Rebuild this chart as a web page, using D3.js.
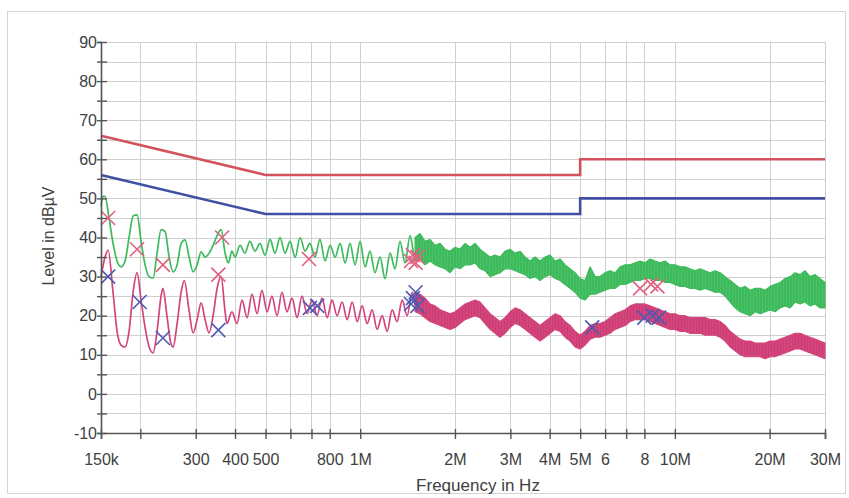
<!DOCTYPE html>
<html><head><meta charset="utf-8">
<script src="https://cdn.jsdelivr.net/npm/d3@7/dist/d3.min.js"></script>
<style>body{margin:0;background:#fff}svg{font-family:"Liberation Sans",Arial,sans-serif}</style>
</head><body><svg id="c" width="849" height="498"></svg>
<script>
// ---- axis ticks (frequency in MHz, level in dBµV) ----
const xTickValues = [0.15,0.2,0.3,0.4,0.5,0.6,0.7,0.8,1,2,3,4,5,6,7,8,10,20,30];
const xTickLabels = ["150k","","300","400","500","","","800","1M","2M","3M","4M","5M","6","","8","10M","20M","30M"];
const yTickValues = [-10,-5,0,5,10,15,20,25,30,35,40,45,50,55,60,65,70,75,80,85,90];

// ---- limit lines ----
const qpLimitFreq = [0.15,0.5,5,5,30];
const qpLimit     = [66,56,56,60,60];
const avLimitFreq = [0.15,0.5,5,5,30];
const avLimit     = [56,46,46,50,50];

// ---- peak trace (green), resolved part ----
const peakFreq = [0.150,0.1522,0.1545,0.1591,0.1638,0.1687,0.1737,0.1789,0.1842,0.1897,0.1953,0.2011,0.2071,0.2133,0.2196,0.2261,0.2328,0.2398,0.2469,0.2542,0.2618,0.2696,0.2776,0.2858,0.2943,0.3031,0.3121,0.3213,0.3309,0.3407,0.3508,0.3613,0.372,0.381,0.391,0.400,0.415,0.430,0.446,0.463,0.480,0.498,0.517,0.536,0.556,0.577,0.598,0.621,0.644,0.668,0.692,0.718,0.745,0.773,0.802,0.832,0.863,0.895,0.928,0.963,0.999,1.036,1.074,1.114,1.156,1.199,1.244,1.290,1.338,1.388,1.440,1.494,1.549];
const peakLevel = [48,50.5,50.5,45,38.5,34,32.5,34,40,45.5,45.8,39,33,30,29.6,36,42,41.5,35,31.2,33,38.5,39.4,35,31.2,33,36.3,35,36,38,40.5,42,36,33.5,36.5,35,38,36,39,36.5,38.5,35.5,39.5,36,40,36,39,35,40,36.5,38.5,35,39.5,34,38,35,38.5,33.5,38.5,33,39,32.5,36.5,31,35,29.5,36,32,39,33.5,40.5,34.5,40];

// ---- average trace (pink), resolved part ----
const avgFreq = [0.150,0.1545,0.158,0.1638,0.1687,0.1737,0.1789,0.1842,0.1897,0.1953,0.2011,0.2071,0.2133,0.2196,0.2261,0.2328,0.236,0.243,0.250,0.2542,0.2618,0.2696,0.276,0.285,0.2943,0.3031,0.3121,0.3213,0.3309,0.3407,0.3508,0.3613,0.372,0.377,0.391,0.406,0.421,0.437,0.453,0.470,0.487,0.506,0.524,0.544,0.564,0.585,0.607,0.630,0.653,0.678,0.703,0.729,0.756,0.785,0.814,0.844,0.876,0.909,0.943,0.978,1.014,1.052,1.091,1.132,1.174,1.218,1.263,1.310,1.359,1.410,1.462,1.517,1.573];
const avgLevel = [30,35,36.8,26,16,12.5,12,16,26,31,24,17,12,10.5,16,25,27,20,13,12,18,26,29,22,15.6,19,23.3,19,15.6,20,27,30,21,18,21,18,24,19.5,25.5,20.5,26.5,21,25,20,26,21,24.5,19.5,25,20.5,24,20,24.5,19.5,24,20,23.5,19,23.5,18.5,22.5,18,21.5,16.5,20,16,21.5,18.5,24,20,26,21,25];

// ---- dense noise region (above ~1.5 MHz): envelopes ----
const bandFreq = [1.494,1.549,1.607,1.667,1.729,1.794,1.861,1.930,2.002,2.076,2.154,2.234,2.317,2.404,2.493,2.586,2.683,2.782,2.886,2.994,3.105,3.221,3.341,3.466,3.595,3.729,3.868,4.012,4.162,4.316,4.477,4.644,4.817,4.997,5.183,5.376,5.577,5.78,6.00,6.22,6.46,6.70,6.95,7.21,7.47,7.75,8.04,8.34,8.65,8.97,9.31,9.65,10.01,10.38,10.77,11.17,11.59,12.03,12.47,12.94,13.42,13.93,14.44,14.98,15.54,16.12,16.72,17.35,18.0,18.66,19.36,20.08,20.83,21.6,22.4,23.25,24.1,25.0,25.9,26.9,27.9,28.9,30.0];
const peakHi = [40,41,39,39.5,38,38.5,37,36.5,37.5,37,38.5,37.5,38.5,37,36,35,35.5,35,36.5,37,36,36.5,35,34,35,34,35,35.5,34,34.5,33,32,31,29.5,29,32.5,30,30,31,31.5,31,32.5,33,33,33.5,34,33.5,34.5,34,33.5,34,33,33,32.5,32.5,32,31.5,32,31.5,31,31.5,31,30,29,28,27,27.5,26.5,27,27,26.5,27.5,28,28.5,29.5,30,31,30.5,31.5,30,30.5,29.5,28.5];
const peakLo = [34,34.5,33,34,33,32.5,32,31,32.5,32,33,33,33.5,32,31.5,30,30.5,31,32,32,31.5,31,30.5,29.5,30,29,30,30.5,29.5,29,28,27,26,24.5,24,25.5,25.5,26,26.5,27,27,28,28,28.5,29,29,29.5,29.5,29,29,28.5,28.5,28,27.5,27.5,27,27,26.5,27,26.5,26,26,25,23.5,22,21,20.5,20,21,20.5,21,21.5,21,22,22.5,22,23.5,23,23.5,22.5,23,22,22];
const avgHi = [26,25.5,24.5,23,22.5,21.5,21,20.5,21,22,23,23.5,24,23.5,22,20.5,19.5,18.5,19.5,21,22,21.5,20.5,19.5,18.5,17.5,18.5,19.5,20.5,20,18.5,17.5,16,15,16,17.5,18,18,18.5,19.5,20.5,21,21.5,22.5,23,23,23,22.5,22,21.5,21,20.5,20.5,20,20,19.5,19.5,19.5,19.5,19,19,18.5,17.5,16,15,14,13.5,13.5,13,13,13,13.5,13.5,14,14.5,15,15.5,15.5,15,14.5,14,13.5,13];
const avgLo = [21,20.5,19.5,18.5,18,17.5,17,16.5,17,18,19,19.5,20,19.5,18,16.5,15.5,14.5,15.5,17,18,17.5,16.5,15.5,14.5,13.5,14.5,15.5,16.5,16,14.5,13.5,12,11.5,12.5,14,14.5,14.5,15,15.5,16.5,17,17.5,18.5,19,19,19,18.5,18,17.5,17,16.5,16.5,16,16,15.5,15.5,15.5,15,15,15,14.5,13.5,12,11,10,9.5,9.5,9.5,9.5,9,9.5,9.5,10,10.5,11,11.5,11.5,11,10.5,10,9.5,9];

// ---- final measurement markers ----
const qpMarkFreq  = [0.158,0.1953,0.236,0.354,0.364,0.687,1.45,1.47,1.50,1.52,7.75,8.4,8.8];
const qpMarkLevel = [45,37,33,30.5,40,34.5,34,35.5,33.5,35,27,28,27.5];
const avMarkFreq  = [0.158,0.199,0.236,0.354,0.692,0.73,1.45,1.47,1.50,1.52,5.46,8.0,8.5,8.9];
const avMarkLevel = [30,23.5,14.3,16.3,22,22.5,23,24.5,26,22.5,17,19.5,20,19.5];

// ---- drawing ----
const svg = d3.select("#c");
const x = d3.scaleLog().domain([0.15,30]).range([101,825]);
const y = d3.scaleLinear().domain([-10,90]).range([433,42]);

const green = "#3dba5c", pink = "#d3457c";
const defs = svg.append("defs");
function stripes(id, c1, c2){
  const p = defs.append("pattern").attr("id",id).attr("patternUnits","userSpaceOnUse")
    .attr("width",3).attr("height",7);
  p.append("rect").attr("width",3).attr("height",7).attr("fill",c1);
  p.append("rect").attr("width",1).attr("height",7).attr("fill",c2);
}
stripes("gStripe", green, "#4cc268");
stripes("pStripe", pink, "#c93d73");

svg.append("rect").attr("x",7.5).attr("y",11.5).attr("width",838).attr("height",482)
  .attr("fill","#fff").attr("stroke","#d4d4d4");

const grid = svg.append("g").attr("stroke","#cfcfcf").attr("stroke-width",1);
grid.selectAll(".h").data(yTickValues).join("line")
  .attr("x1",x(0.15)).attr("x2",x(30)).attr("y1",d=>Math.round(y(d))+0.5).attr("y2",d=>Math.round(y(d))+0.5);
grid.selectAll(".v").data(xTickValues.slice(1)).join("line")
  .attr("y1",y(-10)).attr("y2",y(90)).attr("x1",d=>Math.round(x(d))+0.5).attr("x2",d=>Math.round(x(d))+0.5);

const line = d3.line().x(d=>x(d[0])).y(d=>y(d[1]));
const curvy = d3.line().curve(d3.curveMonotoneX).x(d=>x(d[0])).y(d=>y(d[1]));
const area = d3.area().x(d=>x(d[0])).y0(d=>y(d[1])).y1(d=>y(d[2]));

svg.append("path").datum(qpLimitFreq.map((f,i)=>[f,qpLimit[i]])).attr("d",line)
  .attr("fill","none").attr("stroke","#d4525c").attr("stroke-width",2.6);
svg.append("path").datum(avLimitFreq.map((f,i)=>[f,avLimit[i]])).attr("d",line)
  .attr("fill","none").attr("stroke","#3f4fa3").attr("stroke-width",2.6);

svg.append("path").datum(bandFreq.map((f,i)=>[f,peakLo[i],peakHi[i]])).attr("d",area)
  .attr("fill","url(#gStripe)").attr("stroke",green).attr("stroke-width",1.2).attr("stroke-linejoin","bevel");
svg.append("path").datum(peakFreq.map((f,i)=>[f,peakLevel[i]])).attr("d",curvy)
  .attr("fill","none").attr("stroke",green).attr("stroke-width",1.7);
svg.append("path").datum(bandFreq.map((f,i)=>[f,avgLo[i],avgHi[i]])).attr("d",area)
  .attr("fill","url(#pStripe)").attr("stroke",pink).attr("stroke-width",1.2).attr("stroke-linejoin","bevel");
svg.append("path").datum(avgFreq.map((f,i)=>[f,avgLevel[i]])).attr("d",curvy)
  .attr("fill","none").attr("stroke",pink).attr("stroke-width",1.7);

const xMark = "M-7,-7L7,7M-7,7L7,-7";
svg.append("g").selectAll("path").data(qpMarkFreq.map((f,i)=>[f,qpMarkLevel[i]])).join("path")
  .attr("d",xMark).attr("transform",d=>`translate(${x(d[0])},${y(d[1])})`)
  .attr("fill","none").attr("stroke","#e0607e").attr("stroke-width",1.6);
svg.append("g").selectAll("path").data(avMarkFreq.map((f,i)=>[f,avMarkLevel[i]])).join("path")
  .attr("d",xMark).attr("transform",d=>`translate(${x(d[0])},${y(d[1])})`)
  .attr("fill","none").attr("stroke","#4b5bb3").attr("stroke-width",1.6);

// axes
const txt = "#404040";
const gx = svg.append("g").attr("transform",`translate(0,${y(-10)})`)
  .call(d3.axisBottom(x).tickValues(xTickValues).tickFormat((d,i)=>xTickLabels[i]).tickSize(6));
gx.select(".domain").attr("stroke","#555").attr("stroke-width",1.6);
gx.selectAll(".tick line").attr("y1",-4).attr("y2",6).attr("stroke","#555").attr("stroke-width",1.4);
gx.selectAll(".tick text").attr("y",21).attr("font-size",16).attr("fill",txt).attr("font-family","Liberation Sans, Arial, sans-serif");

const gy = svg.append("g").attr("transform",`translate(${x(0.15)},0)`)
  .call(d3.axisLeft(y).tickValues(yTickValues).tickFormat(d=>d%10===0?d:"").tickSize(4));
gy.select(".domain").attr("stroke","#555").attr("stroke-width",1.6);
gy.selectAll(".tick line").attr("x1",6).attr("x2",-4).attr("stroke","#555").attr("stroke-width",1.4);
gy.selectAll(".tick text").attr("x",-4).attr("font-size",16).attr("fill",txt).attr("font-family","Liberation Sans, Arial, sans-serif");

svg.append("text").attr("transform","translate(54,236) rotate(-90)").attr("text-anchor","middle")
  .attr("font-size",16).attr("fill",txt).text("Level in dBµV");
svg.append("text").attr("x",478).attr("y",491).attr("text-anchor","middle")
  .attr("font-size",17).attr("fill",txt).text("Frequency in Hz");
</script></body></html>
